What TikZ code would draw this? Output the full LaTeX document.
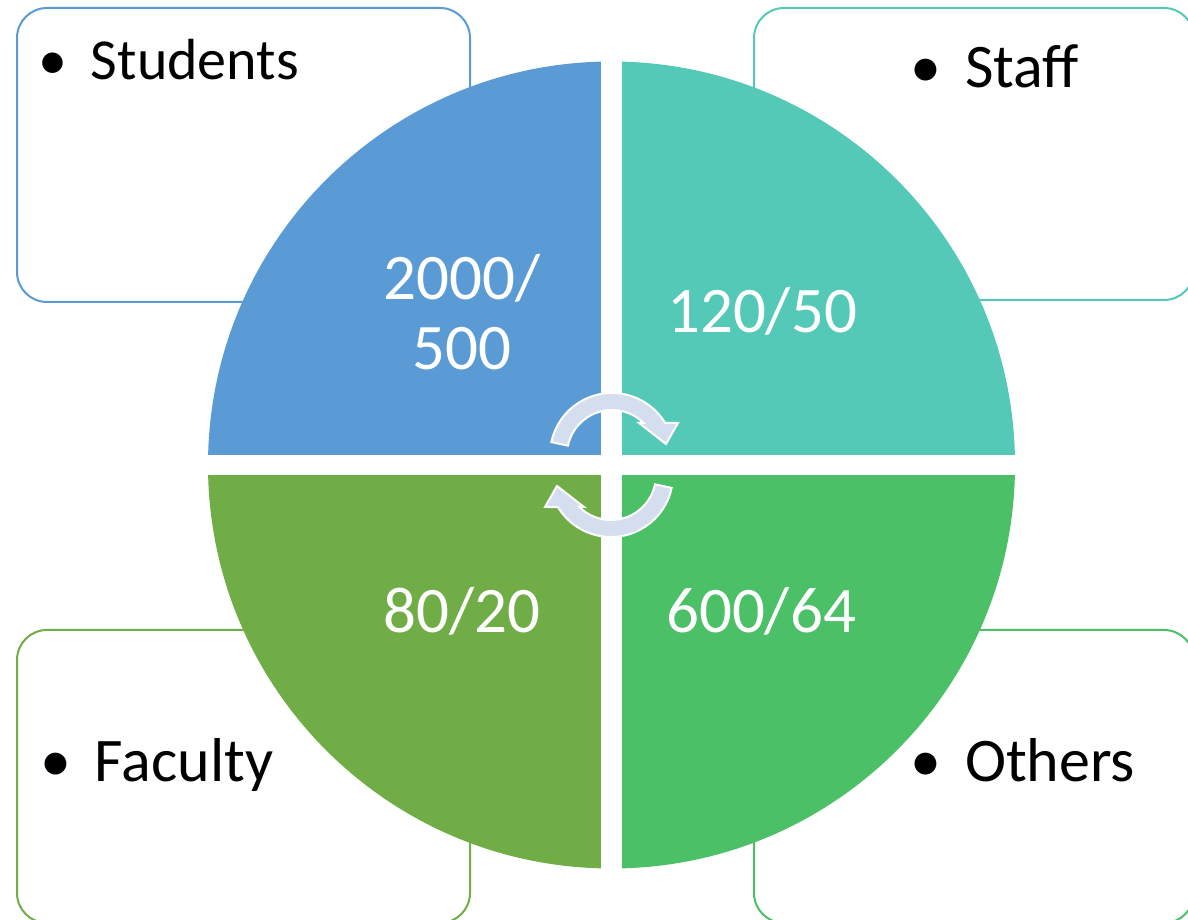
\documentclass[tikz,border=0pt]{standalone}
\usepackage{fontspec}
\setmainfont{Carlito}
\definecolor{qblue}{HTML}{5B9BD5}
\definecolor{qteal}{HTML}{54C9B7}
\definecolor{qgreen}{HTML}{70AD47}
\definecolor{qlime}{HTML}{4BC067}
\definecolor{turnfill}{HTML}{D5DEEE}

\begin{document}
\begin{tikzpicture}[
		x=0.5pt, y=0.5pt,
		every node/.style={inner sep=0pt, outer sep=0pt},
		box/.style={draw, line width=1pt, rounded corners=15pt},
		lbl/.style={anchor=base west, font=\fontsize{31}{35}\selectfont},
		num/.style={text=white, align=center, anchor=base, font=\fontsize{32.5}{35}\selectfont},
		turn/.style={fill=turnfill, draw=white, line width=1pt, line join=miter}
	]
  \useasboundingbox (0,0) rectangle (1188,920);
  \draw[box, qblue] (17,618) rectangle (470,912);
  \draw[box, qteal] (754,620) rectangle (1194,912);
  \draw[box, qgreen] (17,-3) rectangle (470,290);
  \draw[box, qlime] (754,-3) rectangle (1194,290);
  \node (students) [lbl, font=\fontsize{29}{35}\selectfont] at (91,840) {\llap{\textbullet\hspace{12pt}}Students};
  \node (staff) [lbl] at (965,832) {\llap{\textbullet\hspace{12pt}}Staff};
  \node (faculty) [lbl] at (95,138) {\llap{\textbullet\hspace{12pt}}Faculty};
  \node (others) [lbl] at (965,138) {\llap{\textbullet\hspace{12pt}}Others};
  \coordinate (ctr) at (611.5,455);
  \fill[qblue] (ctr) -- ++(0,403.5) arc (90:180:403.5) -- cycle;
  \fill[qteal] (ctr) -- ++(403.5,0) arc (0:90:403.5) -- cycle;
  \fill[qgreen] (ctr) -- ++(-403.5,0) arc (180:270:403.5) -- cycle;
  \fill[qlime] (ctr) -- ++(0,-403.5) arc (270:360:403.5) -- cycle;
  \draw[white, line width=10.5pt] (611.5,50) -- (611.5,860);
  \draw[white, line width=10pt] (206,455) -- (1017,455);
  \node (n_students) [num] at (462,550) {2000/\\500};
  \node (n_staff) [num] at (762,587) {120/50};
  \node (n_faculty) [num] at (462,287) {80/20};
  \node (n_others) [num] at (761,287) {600/64};
  \foreach \r in {0,180}
    \filldraw[turn, rotate around={\r:(ctr)}, shift={(612,465)}]
      (168:62) arc [start angle=168, end angle=31.1, radius=62]
      -- (66,32) -- (54,11) -- (27,32) -- (45.3:45)
      arc [start angle=45.3, end angle=168, radius=45] -- cycle;
\end{tikzpicture}
\end{document}
